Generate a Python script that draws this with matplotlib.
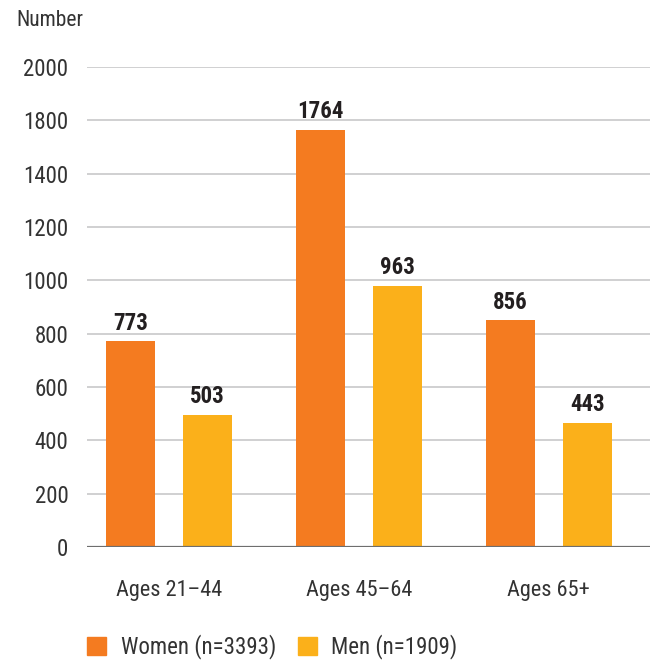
import numpy as np
import matplotlib.pyplot as plt
import matplotlib as mpl
from matplotlib.patches import Patch

mpl.rcParams["font.family"] = ["Roboto Condensed", "Archivo Narrow", "DejaVu Sans"]

# data (bar heights as drawn in the source; printed labels as given)
categories = ["Ages 21\u201344", "Ages 45\u201364", "Ages 65+"]
women_bars = [772, 1564, 851]
men_bars = [495, 979, 465]
women_labels = ["773", "1764", "856"]
men_labels = ["503", "963", "443"]
series_names = ["Women (n=3393)", "Men (n=1909)"]
tick_pos = [0, 200, 400, 600, 800, 1000, 1200, 1400, 1600, 1800]
tick_text = ["0", "200", "400", "600", "800", "1000", "1200", "1400", "1800", "2000"]

c_women = "#F47B20"
c_men = "#FBB01A"
txt = "#231F20"
txt2 = "#333333"

fig = plt.figure(figsize=(6.5, 6.63), dpi=100)
ax = fig.add_axes([87 / 650, 1 - 547 / 663, 1 - 87 / 650, 480 / 663])

x = np.arange(len(categories))
w = 0.258
off = 0.203
b1 = ax.bar(x - off, women_bars, w, color=c_women, zorder=3)
b2 = ax.bar(x + off, men_bars, w, color=c_men, zorder=3)

for bars, labs in [(b1, women_labels), (b2, men_labels)]:
    for r, s in zip(bars, labs):
        ax.annotate(s, (r.get_x() + r.get_width() / 2, r.get_height()),
                    xytext=(0, 8.3), textcoords="offset points",
                    ha="center", va="baseline", fontsize=16.5,
                    fontweight="bold", color=txt)

ax.set_xlim(-0.432, 2.534)
ax.set_ylim(0, 1800)
ax.set_yticks(tick_pos)
ax.set_yticklabels(tick_text)
ax.set_xticks(x)
ax.set_xticklabels(categories)
ax.tick_params(axis="y", length=0, pad=13.5, labelsize=16.5, labelcolor=txt2)
ax.tick_params(axis="x", length=0, pad=24, labelsize=16, labelcolor=txt2)
ax.grid(axis="y", color="#C8C8CA", linewidth=1.2, zorder=0)
ax.axhline(0, color="#6E6E6E", linewidth=1.6, zorder=4)
for s in ax.spines.values():
    s.set_visible(False)

fig.text(16 / 650, 1 - 21 / 663, "Number", fontsize=15.5, color=txt2,
         ha="left", va="center")

handles = [Patch(color=c_women), Patch(color=c_men)]
fig.legend(handles, series_names, loc="center left",
           bbox_to_anchor=(87 / 650, 1 - 647 / 663), ncol=2, frameon=False,
           fontsize=16.5, handlelength=0.82, handleheight=0.78,
           handletextpad=0.65, columnspacing=0.95, borderpad=0,
           borderaxespad=0, labelcolor=txt2)

fig.savefig("out.png", dpi=100)
